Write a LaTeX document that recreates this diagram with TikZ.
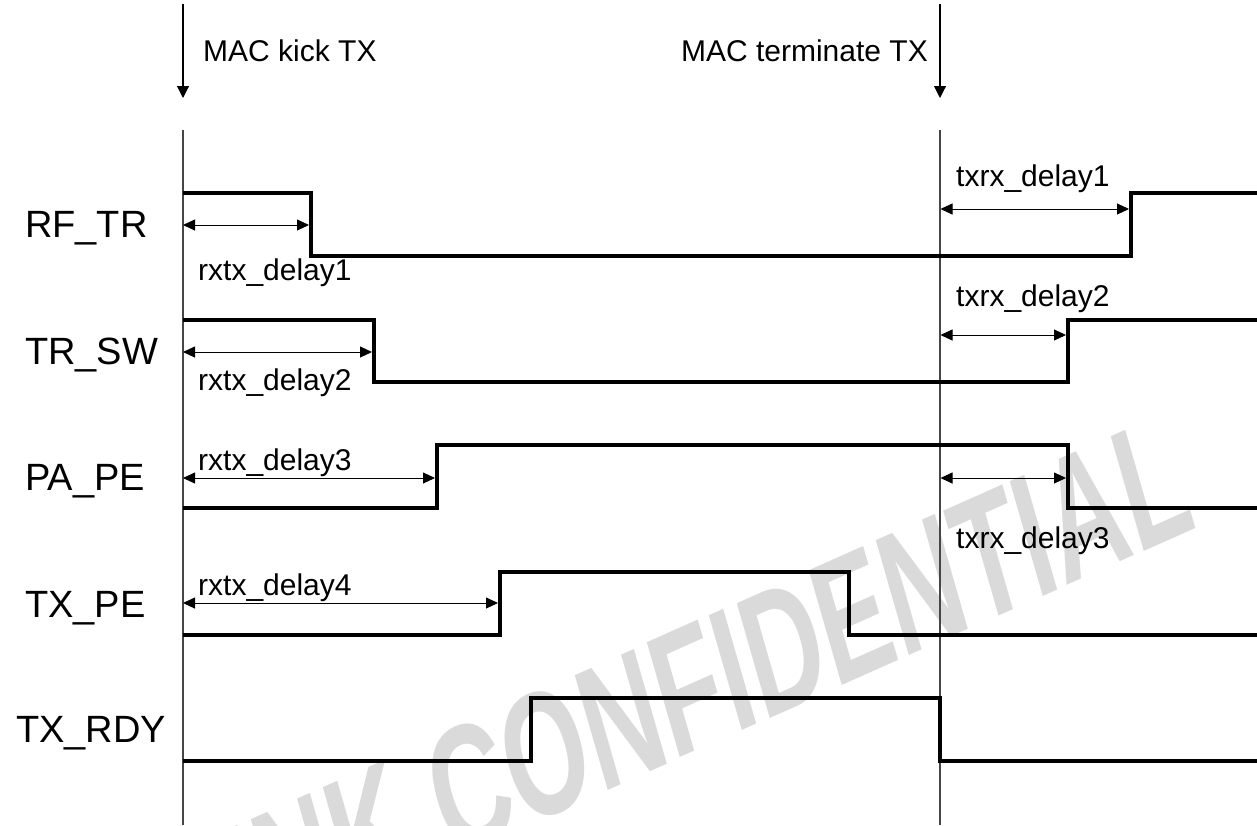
\documentclass[tikz,border=0pt]{standalone}
\usepackage{fontspec}
\setmainfont{Liberation Sans}
\newfontfamily\wmfont{Liberation Sans}
\usetikzlibrary{arrows.meta}
\definecolor{wmgray}{RGB}{218,218,218}
\definecolor{guideclr}{RGB}{70,70,70}
\begin{document}
\begin{tikzpicture}[x=1pt,y=-1pt,
  sig/.style={line width=3.8pt, line join=miter},
  guide/.style={draw=guideclr, line width=1.1pt},
  tick/.style={draw=black, line width=1.1pt, -{Triangle[length=12pt,width=12pt]}},
  dly/.style={line width=0.9pt, {Triangle[length=12pt,width=11pt]}-{Triangle[length=12pt,width=11pt]}},
  lbl/.style={font=\fontsize{30}{36}\selectfont, inner sep=0pt, anchor=base west},
  siglbl/.style={font=\fontsize{38}{44}\selectfont, inner sep=0pt, anchor=base west},
  wm/.style={font=\wmfont\bfseries\fontsize{172}{172}\selectfont, text=wmgray, inner sep=0pt, rotate=24, xslant=0.14, xscale=0.64}]
\useasboundingbox (0,0) rectangle (1257,825);
% watermark
\begin{scope}
\clip (0,0) rectangle (1257,825);
\node[wm, anchor=base east] (wmark) at (1199,527) {RALINK CONFIDENTIAL};
\end{scope}
% time references
\coordinate (k0) at (183,4);   \coordinate (k1) at (183,98);
\coordinate (k2) at (183,130); \coordinate (k3) at (183,825);
\coordinate (t0) at (940,4);   \coordinate (t1) at (940,98);
\coordinate (t2) at (940,130); \coordinate (t3) at (940,825);
\draw[tick] (k0) -- (k1);
\draw[guide] (k2) -- (k3);
\draw[tick] (t0) -- (t1);
\draw[guide] (t2) -- (t3);
\node[lbl] (kick) at (203,61) {MAC kick TX};
\node[lbl, anchor=base east] (term) at (928,61) {MAC terminate TX};
% signal names
\node[siglbl] (rftr) at (25,237) {RF\_TR};
\node[siglbl] (trsw) at (25,364) {TR\_SW};
\node[siglbl] (pape) at (25,490) {PA\_PE};
\node[siglbl] (txpe) at (25,617) {TX\_PE};
\node[siglbl] (txrdy) at (16,742) {TX\_RDY};
% waveforms
\draw[sig] (183,193) -| (311,256) -| (1131,193) -- (1257,193);
\draw[sig] (183,320) -| (374,382) -| (1068,320) -- (1257,320);
\draw[sig] (183,508) -| (437,445) -| (1068,508) -- (1257,508);
\draw[sig] (183,635) -| (500,572) -| (849,635) -- (1257,635);
\draw[sig] (183,761) -| (531,698) -| (940,761) -- (1257,761);
% delay arrows
\coordinate (a1l) at (183,225); \coordinate (a1r) at (309,225);
\coordinate (a2l) at (183,352); \coordinate (a2r) at (372,352);
\coordinate (a3l) at (183,478); \coordinate (a3r) at (435,478);
\coordinate (a4l) at (183,603); \coordinate (a4r) at (498,603);
\coordinate (b1l) at (940.5,209); \coordinate (b1r) at (1129,209);
\coordinate (b2l) at (940.5,335); \coordinate (b2r) at (1066,335);
\coordinate (b3l) at (940.5,478); \coordinate (b3r) at (1066,478);
\draw[dly] (a1l) -- (a1r);
\draw[dly] (a2l) -- (a2r);
\draw[dly] (a3l) -- (a3r);
\draw[dly] (a4l) -- (a4r);
\draw[dly] (b1l) -- (b1r);
\draw[dly] (b2l) -- (b2r);
\draw[dly] (b3l) -- (b3r);
\node[lbl] (d1) at (198,280) {rxtx\_delay1};
\node[lbl] (d2) at (198,390) {rxtx\_delay2};
\node[lbl] (d3) at (198,470) {rxtx\_delay3};
\node[lbl] (d4) at (198,595) {rxtx\_delay4};
\node[lbl] (e1) at (956,186) {txrx\_delay1};
\node[lbl] (e2) at (956,306) {txrx\_delay2};
\node[lbl] (e3) at (956,548) {txrx\_delay3};
\end{tikzpicture}
\end{document}
